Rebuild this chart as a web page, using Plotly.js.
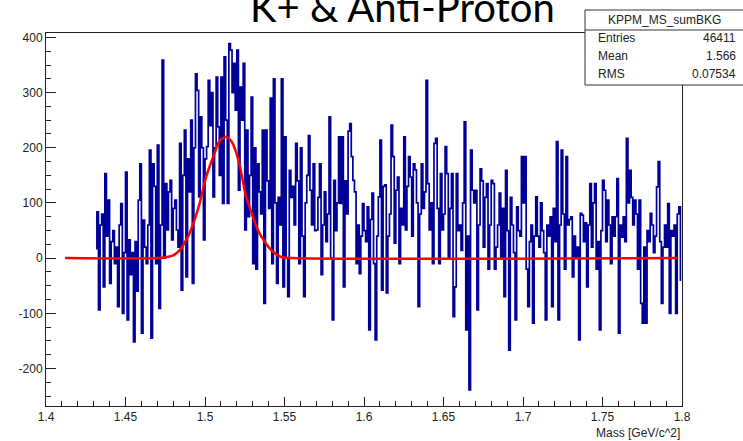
<!DOCTYPE html>
<html>
<head>
<meta charset="utf-8">
<script src="https://cdn.plot.ly/plotly-3.0.1.min.js"></script>
<style>html,body{margin:0;padding:0;background:#fff;}#chart{width:743px;height:441px;}</style>
</head>
<body>
<div id="chart"></div>
<script>
// Histogram binning
const binLow = 1.431;
const binWidth = 0.001;
// Bin contents, 1.431 ... 1.799
const counts = [
  17, 84, -94, 60, 80,  -52, 153, 40, 105, -46,
  30, 50, -10, 20, -88,  60, 99, -100, 10, 156,
  -112, 33, -30, 10, -152,  30, -60, 105, 171, -136,
  69, 20, -10, 60, 196,  -145, 171, 130, -10, 205,
  -91, 60, 359, 0, 135,  51, 120, 141, 33, 90,
  105, 51, 20, 208, -58,  150, 232, -34, 180, 120,
  250, -46, 200, 334, 304,  111, 256, 200, 33, 180,
  202, 322, 240, 300, 111,  200, 328, 238, 150,
  328, 99, 365, 250, 99,  389, 377, 300, 353, 268,
  377, 123, 310, 250, 353,  51, 232, 75, 150, 292,
  -10, 200, -20, 171, 120,  80, 232, -82, 232, 140,
  90, 290, -10, 325, 100,  -46, 110, 60, 325, -52,
  220, 0, -70, 159, 110,  130, 60, 208, 140, -10,
  200, 40, -70, 100, 150,  222, 123, 60, 171, 50,
  51, 110, 171, -30, 60,  120, 30, 80, 256, 0,
  -112, 141, 50, 100, 220,
  99, 220, -52, 140, 80,  230, 244, 184, 141, 120,
  -10, 60, -28, 40, 99,  50, 30, 93, -130, 70,
  118, -10, -148, 40, 111,  214, -58, 130, 133, -63,
  40, 80, 241, 184, 27,  123, 147, -10, 90, 60,
  220, 51, 130, 184, 147,  40, 171, 160, 100, -88,
  80, 171, 90, 120, 322,  135, 51, 100, -10, 208,
  217, 90, -10, 153, 51,  80, 202, 153, 0, 90,
  153, -106, -52, 153, 50,  60, 14, 100, 247, -130,
  40, -239, 196, 123, 100,  123, -94, 60, 162, 140,
  20, 110, 135, -20, 60,  141, 135, -20, 20, 60,
  118, 0, 90, -70, 159,  50, -167, 110, 60, 10,
  -112, 93, 50, 40, 184,  100, 184, -20, -88, 30,
  60, -118, 40, 111, 40,  20, 100, 50, 10, -112,
  60, 40, 75, -88, 90,  30, 211, -112, 60, 196,
  80, -20, 184, 60, 70,  75, -34, 40, 0, 20,
  -148, 81, 78, 30, 64,  -52, 60, 135, 20, 100,
  135, -20, 30, -130, 50,  141, 123, 30, 105, 60,
  -10, 75, 40, 75, 144,  -136, 60, 38, 75, 30,
  217, 100, 159, 110, 60,  105, 80, -20, 105, -82,
  -118, 20, -118, 50, 30,  81, 60, 10, 40, 129,
  175, 30, -82, 20, 60,  20, 99, -100, 50, 40,
  60, -100, 80, 93, -40
];
// Gaussian fit curve
const fitX = [1.412, 1.470, 1.476, 1.480, 1.484, 1.487, 1.4903, 1.4935, 1.4966, 1.5008, 1.506, 1.5091, 1.5133, 1.517, 1.521, 1.5259, 1.5295, 1.5332, 1.538, 1.5426, 1.548, 1.555, 1.797];
const fitY = [0, 0, 2, 5, 14, 27, 45, 70, 99, 148, 190, 212, 220, 210, 178, 111, 80, 51, 28, 12, 2, 0, 0];
// Stats box
const statsTitle = "KPPM_MS_sumBKG";
const statsNames = ["Entries", "Mean", "RMS"];
const statsValues = ["46411", "1.566", "0.07534"];
const xTickVals = [1.4, 1.45, 1.5, 1.55, 1.6, 1.65, 1.7, 1.75, 1.8];
const yTickVals = [-200, -100, 0, 100, 200, 300, 400];

const binCenters = counts.map((_, i) => +(binLow + (i + 0.5) * binWidth).toFixed(5));

const histTrace = {
  x: binCenters, y: counts, type: 'scatter', mode: 'lines',
  line: {color: '#000099', width: 1.7, shape: 'hvh'}, hoverinfo: 'skip'
};
const fitTrace = {
  x: fitX, y: fitY, type: 'scatter', mode: 'lines',
  line: {color: '#ff0000', width: 2.5, shape: 'spline', smoothing: 0.8}, hoverinfo: 'skip'
};

const FONT = "'Liberation Sans', Arial, sans-serif";
const L = 46, R = 682, T = 33, B = 406;
const pw = R - L, ph = B - T;
const px = v => (v - L) / pw;
const py = v => (B - v) / ph;

const annotations = [
  {text: "K+ &amp; Anti-Proton", x: px(402), y: py(33), xref: 'paper', yref: 'paper',
   xanchor: 'center', yanchor: 'bottom', showarrow: false,
   font: {family: "Lato, 'Open Sans', sans-serif", size: 40, color: '#000'}},
  {text: "Mass [GeV/c^2]", x: 1.0, y: py(433), xref: 'paper', yref: 'paper',
   xanchor: 'right', yanchor: 'middle', showarrow: false,
   font: {family: FONT, size: 12, color: '#222'}},
  {text: statsTitle, x: px(664), y: py(20), xref: 'paper', yref: 'paper',
   xanchor: 'center', yanchor: 'middle', showarrow: false,
   font: {family: FONT, size: 12, color: '#222'}}
];
const rowY = [38, 56, 74];
statsNames.forEach((n, i) => {
  annotations.push({text: n, x: px(596), y: py(rowY[i]), xref: 'paper', yref: 'paper',
    xanchor: 'left', yanchor: 'middle', showarrow: false, font: {family: FONT, size: 12, color: '#222'}});
  annotations.push({text: statsValues[i], x: px(738), y: py(rowY[i]), xref: 'paper', yref: 'paper',
    xanchor: 'right', yanchor: 'middle', showarrow: false, font: {family: FONT, size: 12, color: '#222'}});
});

const shapes = [
  {type: 'rect', xref: 'paper', yref: 'paper', x0: px(585), x1: px(750), y0: py(85), y1: py(10),
   line: {color: '#333', width: 1}, fillcolor: '#fff', layer: 'above'},
  {type: 'line', xref: 'paper', yref: 'paper', x0: px(585), x1: px(750), y0: py(30), y1: py(30),
   line: {color: '#333', width: 1}, layer: 'above'}
];

const layout = {
  width: 743, height: 441,
  margin: {l: L, r: 743 - R, t: T, b: 441 - B, pad: 0},
  paper_bgcolor: '#fff', plot_bgcolor: '#fff',
  showlegend: false,
  xaxis: {
    range: [1.4, 1.8], tickvals: xTickVals, ticktext: xTickVals.map(String),
    ticks: 'inside', ticklen: 9, tickwidth: 1, tickcolor: '#222',
    minor: {dtick: 0.01, ticks: 'inside', ticklen: 5, tickcolor: '#222', showgrid: false},
    showline: true, linecolor: '#222', linewidth: 1, mirror: true,
    showgrid: false, zeroline: false,
    tickfont: {family: FONT, size: 12, color: '#222'}
  },
  yaxis: {
    range: [-268, 408], tickvals: yTickVals, ticktext: yTickVals.map(String),
    ticks: 'inside', ticklen: 10, tickwidth: 1, tickcolor: '#222',
    minor: {dtick: 25, ticks: 'inside', ticklen: 5, tickcolor: '#222', showgrid: false},
    showline: true, linecolor: '#222', linewidth: 1, mirror: true,
    showgrid: false, zeroline: false,
    tickfont: {family: FONT, size: 12, color: '#222'}
  },
  annotations: annotations,
  shapes: shapes
};

Plotly.newPlot('chart', [histTrace, fitTrace], layout, {staticPlot: true, displayModeBar: false});
</script>
</body>
</html>
